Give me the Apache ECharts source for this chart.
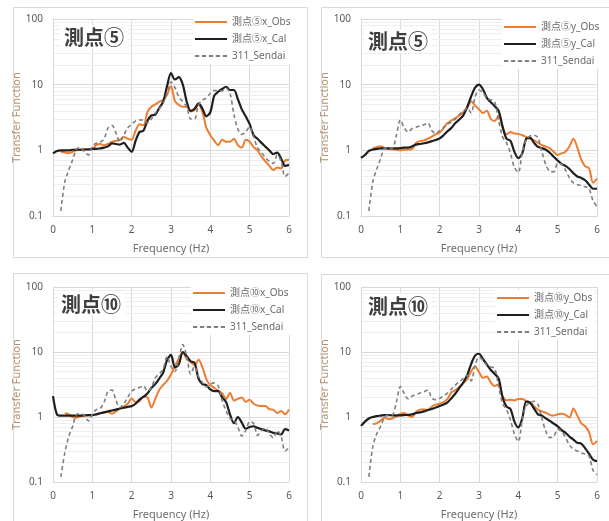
<!DOCTYPE html>
<html>
<head>
<meta charset="utf-8">
<script src="https://cdn.jsdelivr.net/npm/echarts@6/dist/echarts.min.js"></script>
<style>
	html,body{margin:0;padding:0;background:#fff;}
	#main{width:609px;height:521px;}
</style>
</head>
<body>
<div id="main"></div>
<script>
// frequency (Hz), 0.1 step
var freq = [0,0.1,0.2,0.3,0.4,0.5,0.6,0.7,0.8,0.9,
	1,1.1,1.2,1.3,1.4,1.5,1.6,1.7,1.8,1.9,
	2,2.1,2.2,2.3,2.4,2.5,2.6,2.7,2.8,2.9,
	3,3.1,3.2,3.3,3.4,3.5,3.6,3.7,3.8,3.9,
	4,4.1,4.2,4.3,4.4,4.5,4.6,4.7,4.8,4.9,
	5,5.1,5.2,5.3,5.4,5.5,5.6,5.7,5.8,5.9,
	6];
var xTicks = [0,1,2,3,4,5,6];
var yTicks = [0.1,1,10,100];
var minorTicks = [0.2,0.3,0.4,0.5,0.6,0.7,0.8,0.9,2,3,4,5,6,7,8,9,20,30,40,50,60,70,80,90];

// 測点⑤ x
var p5xObs = [null,null,0.95,0.93,0.9,0.95,1.0,1.02,1.03,1.05,
	1.05,1.2,1.25,1.2,1.25,1.35,1.4,1.45,1.6,1.5,
	1.45,2.0,2.5,2.4,3.8,4.6,5.0,5.5,5.8,7.0,
	9.5,5.6,4.9,4.6,4.6,3.9,4.1,5.0,3.8,2.2,
	1.7,1.4,1.2,1.45,1.35,1.35,1.5,1.2,1.1,1.45,
	1.35,1.12,1.0,0.8,0.68,0.58,0.5,0.55,0.53,0.7,
	0.72];
var p5xCal = [0.9,0.98,1.0,1.0,1.0,1.02,1.02,1.02,1.03,1.03,
	1.05,1.05,1.07,1.1,1.15,1.28,1.25,1.22,1.3,1.1,
	0.95,1.4,1.9,2.0,2.8,3.4,3.5,4.4,5.5,9.5,
	15,12,13,10,5.5,4.0,4.3,5.2,4.3,3.3,
	3.8,6.8,7.8,8.6,9.3,8.3,8.3,6.0,4.2,3.3,
	2.5,1.7,1.5,1.3,1.14,1.0,0.88,0.92,0.75,0.58,
	0.6];
var p5xSendai = [null,null,0.12,0.33,0.5,0.72,1.05,1.1,0.95,0.85,
	1.15,1.28,1.33,1.5,2.2,2.4,1.85,1.35,1.7,2.2,
	2.5,2.8,2.9,2.9,2.6,3.0,3.7,4.3,5.2,7.4,
	11,9,6.5,5.5,4.6,3.0,3.0,5.0,5.8,6.3,
	7.4,8.2,8.0,8.0,8.8,7.4,3.5,2.1,1.75,1.9,
	2.3,1.6,1.1,0.92,0.78,0.68,0.63,0.85,0.68,0.4,
	0.45];

// 測点⑤ y
var p5yObs = [null,null,null,1.07,1.12,1.15,1.08,1.05,1.04,1.02,
	1.0,1.02,1.03,1.05,1.3,1.38,1.42,1.5,1.62,1.75,
	1.85,2.2,2.6,2.85,3.1,3.4,3.8,4.4,5.6,4.8,
	4.2,3.7,4.0,3.0,2.8,3.4,2.2,1.75,1.9,1.8,
	1.78,1.7,1.6,1.5,1.42,1.3,1.2,1.14,1.07,0.95,
	0.85,0.9,0.95,1.15,1.5,1.1,0.72,0.57,0.53,0.32,
	0.37];
var p5yCal = [0.77,0.85,0.98,1.03,1.05,1.07,1.07,1.07,1.07,1.07,
	1.08,1.1,1.1,1.15,1.22,1.25,1.28,1.32,1.38,1.44,
	1.52,1.7,1.95,2.2,2.6,2.95,3.4,4.6,6.6,9.0,
	10,8.5,6.3,5.4,4.7,4.0,2.3,1.5,1.4,0.95,
	0.76,0.9,1.5,1.55,1.3,1.13,1.08,1.02,0.92,0.8,
	0.7,0.62,0.58,0.52,0.45,0.4,0.38,0.35,0.3,0.26,
	0.26];
var p5ySendai = [null,null,0.12,0.33,0.52,0.75,1.07,1.07,1.08,1.7,
	2.9,2.2,1.9,2.15,2.25,2.35,2.45,2.6,2.0,1.8,
	2.0,2.2,2.5,2.7,3.0,3.5,3.9,4.4,3.7,6.5,
	8.3,7.6,6.2,5.9,5.5,2.8,1.6,1.3,0.9,0.55,
	0.46,0.95,1.45,1.65,1.7,1.55,0.95,0.6,0.48,0.47,
	0.63,0.62,0.5,0.38,0.32,0.3,0.29,0.28,0.26,0.17,
	0.14];

// 測点⑩ x
var p10xObs = [null,null,null,1.14,1.1,1.0,0.97,1.03,1.05,1.06,
	1.07,1.1,1.15,1.18,1.2,1.12,1.22,1.35,1.45,1.6,
	1.93,1.7,1.75,2.05,2.0,1.4,1.9,2.6,3.1,3.6,
	4.5,6.0,8.0,9.8,7.8,7.0,6.3,7.6,5.8,3.8,
	3.1,2.8,2.55,2.3,1.9,2.35,1.8,1.9,2.0,1.7,
	1.85,1.6,1.5,1.47,1.47,1.32,1.3,1.15,1.24,1.1,
	1.3];
var p10xCal = [2.1,1.1,1.05,1.05,1.05,1.05,1.05,1.05,1.06,1.07,
	1.07,1.1,1.14,1.18,1.22,1.26,1.3,1.35,1.39,1.43,
	1.47,1.6,1.85,2.05,2.3,2.8,3.2,3.9,4.8,7.5,
	9.0,5.8,6.5,10,8.6,7.2,6.8,3.9,3.2,3.1,
	2.65,2.5,2.5,2.0,1.7,1.1,0.8,1.0,0.82,0.66,
	0.7,0.72,0.68,0.65,0.62,0.6,0.57,0.56,0.54,0.65,
	0.62];
var p10xSendai = [null,null,0.12,0.28,0.5,0.72,1.1,1.12,1.05,0.87,
	1.1,1.3,1.35,1.7,2.5,2.6,1.8,1.4,1.6,2.0,
	2.5,2.7,2.85,3.0,2.5,2.8,4.0,4.6,5.5,8.5,
	6.0,5.0,8.0,13,8.5,4.6,6.0,4.2,3.4,2.9,
	3.2,3.35,3.0,1.8,1.25,0.95,0.9,0.7,0.51,0.62,
	0.85,0.8,0.52,0.62,0.68,0.55,0.48,0.62,0.5,0.3,
	0.34];

// 測点⑩ y
var p10yObs = [null,null,null,0.78,0.8,0.88,0.97,0.93,0.95,1.02,
	1.12,1.15,1.05,1.0,1.2,1.3,1.32,1.27,1.45,1.55,
	1.6,1.7,1.9,2.4,2.6,2.9,3.3,3.8,5.0,6.0,
	4.9,4.0,4.2,3.4,3.0,3.2,2.1,1.8,1.85,1.8,
	1.9,1.9,1.75,1.68,1.45,1.3,1.22,1.16,1.08,1.05,
	1.1,1.12,1.08,0.98,1.35,1.05,0.8,0.72,0.58,0.38,
	0.43];
var p10yCal = [0.73,0.85,0.95,1.0,1.03,1.05,1.07,1.07,1.06,1.06,
	1.06,1.07,1.08,1.1,1.15,1.18,1.22,1.28,1.33,1.4,
	1.48,1.56,1.68,1.95,2.3,2.8,3.4,4.4,6.5,8.8,
	9.4,7.8,6.4,5.3,4.6,3.9,2.0,1.45,1.33,0.85,
	0.69,0.95,1.72,1.65,1.35,1.1,1.05,0.95,0.87,0.79,
	0.72,0.63,0.57,0.5,0.45,0.4,0.39,0.33,0.27,0.22,
	0.21];
var p10ySendai = [null,null,0.12,0.35,0.55,0.72,1.0,1.07,1.08,1.7,
	2.95,2.3,1.9,2.1,2.2,2.35,2.45,2.6,1.95,1.85,
	1.95,2.1,2.35,2.7,3.1,3.5,3.9,4.4,3.6,6.2,
	8.3,7.5,6.2,5.9,5.6,2.9,1.6,1.3,0.9,0.55,
	0.42,0.9,1.5,1.65,1.75,1.55,0.95,0.6,0.48,0.5,
	0.65,0.6,0.48,0.37,0.32,0.3,0.28,0.27,0.25,0.15,
	0.13];

var panels = [
	{title:'測点⑤', obs:'測点⑤x_Obs', cal:'測点⑤x_Cal', data:[p5xObs,p5xCal,p5xSendai],
	 box:[13,7,294,250], grid:[53,19,236,197], titlePos:[60,25], legendPos:[193,14]},
	{title:'測点⑤', obs:'測点⑤y_Obs', cal:'測点⑤y_Cal', data:[p5yObs,p5yCal,p5ySendai],
	 box:[321,7,300,250], grid:[361,19,236,197], titlePos:[364,29], legendPos:[502,19]},
	{title:'測点⑩', obs:'測点⑩x_Obs', cal:'測点⑩x_Cal', data:[p10xObs,p10xCal,p10xSendai],
	 box:[13,273,294,260], grid:[53,287,236,196], titlePos:[57,292], legendPos:[191,285]},
	{title:'測点⑩', obs:'測点⑩y_Obs', cal:'測点⑩y_Cal', data:[p10yObs,p10yCal,p10ySendai],
	 box:[321,274,300,260], grid:[361,287,236,196], titlePos:[364,294], legendPos:[495,290]}
];

var font = '"Noto Sans", "Noto Sans CJK JP", sans-serif';
var gray = '#595959';
// legend icons: plain line / dashed line
var solidIcon = 'path://M0,0h32v2h-32z';
var dashIcon = 'path://M0,0h4v2h-4z M6.5,0h4v2h-4z M13,0h4v2h-4z M19.5,0h4v2h-4z M26,0h4v2h-4z';

function pairs(arr){
	var out = [];
	for(var i = 0;i < freq.length;i ++){
		if(arr[i] != null){
			out.push([freq[i],arr[i]]);
		}
	}
	return out;
}

var titles = [], legends = [], grids = [], xAxes = [], yAxes = [], series = [], graphics = [];

panels.forEach(function(p,k){
	graphics.push({
		type:'rect',
		shape:{x:p.box[0]+0.5,y:p.box[1]+0.5,width:p.box[2],height:p.box[3]},
		style:{fill:'none',stroke:'#d9d9d9',lineWidth:1},
		silent:true,
		z:-10
	});
	grids.push({left:p.grid[0],top:p.grid[1],width:p.grid[2],height:p.grid[3]});
	xAxes.push({
		gridIndex:k,
		type:'value',
		min:0,
		max:6,
		interval:1,
		name:'Frequency (Hz)',
		nameLocation:'middle',
		nameGap:27,
		nameTextStyle:{color:'#6e6e6e',fontSize:11,fontFamily:font},
		axisLine:{lineStyle:{color:'#d9d9d9'}},
		axisTick:{show:false},
		axisLabel:{color:gray,fontSize:10,fontFamily:font,margin:9},
		splitLine:{lineStyle:{color:'#d9d9d9'}}
	});
	yAxes.push({
		gridIndex:k,
		type:'log',
		logBase:10,
		min:0.1,
		max:100,
		name:'Transfer Function',
		nameLocation:'middle',
		nameGap:24,
		nameTextStyle:{color:'#b4916f',fontSize:11,fontFamily:font},
		axisLine:{show:true,lineStyle:{color:'#d9d9d9'}},
		axisTick:{show:false},
		axisLabel:{color:gray,fontSize:10,fontFamily:font,margin:10,
			formatter:function(v){ return String(v); }},
		splitLine:{lineStyle:{color:'#d9d9d9'}}
	});
	titles.push({
		text:p.title,
		left:p.titlePos[0],
		top:p.titlePos[1],
		padding:[2,4],
		backgroundColor:'#fff',
		textStyle:{fontSize:20,fontWeight:'bold',color:'#3f3f3f',fontFamily:'"Noto Sans CJK JP", sans-serif'}
	});
	legends.push({
		orient:'vertical',
		left:p.legendPos[0],
		top:p.legendPos[1],
		itemWidth:32,
		itemHeight:2.5,
		itemGap:7,
		padding:[3,2],
		backgroundColor:'#fff',
		textStyle:{color:'#6a6a6a',fontSize:10,fontFamily:font},
		data:[
			{name:p.obs,icon:solidIcon},
			{name:p.cal,icon:solidIcon},
			{name:'311_Sendai',icon:dashIcon}
		]
	});
	series.push({
		name:p.obs,
		type:'line',
		xAxisIndex:k,
		yAxisIndex:k,
		symbol:'none',
		smooth:0.3,
		color:'#ED7D31',
		lineStyle:{color:'#ED7D31',width:2},
		data:pairs(p.data[0]),
		markLine:{
			silent:true,
			symbol:'none',
			z:0,
			animation:false,
			label:{show:false},
			lineStyle:{color:'#eeeeee',type:'solid',width:1},
			data:minorTicks.map(function(v){ return {yAxis:v}; })
		}
	});
	series.push({
		name:p.cal,
		type:'line',
		xAxisIndex:k,
		yAxisIndex:k,
		symbol:'none',
		smooth:0.3,
		color:'#1f1f1f',
		lineStyle:{color:'#1f1f1f',width:2.2},
		data:pairs(p.data[1])
	});
	series.push({
		name:'311_Sendai',
		type:'line',
		xAxisIndex:k,
		yAxisIndex:k,
		symbol:'none',
		smooth:0.3,
		color:'#7f7f7f',
		lineStyle:{color:'#7f7f7f',width:1.6,type:[4,3]},
		data:pairs(p.data[2])
	});
});

var mychart = echarts.init(document.getElementById('main'));
mychart.setOption({
	backgroundColor:'#fff',
	animation:false,
	title:titles,
	legend:legends,
	grid:grids,
	xAxis:xAxes,
	yAxis:yAxes,
	series:series,
	graphic:graphics
});
</script>
</body>
</html>
